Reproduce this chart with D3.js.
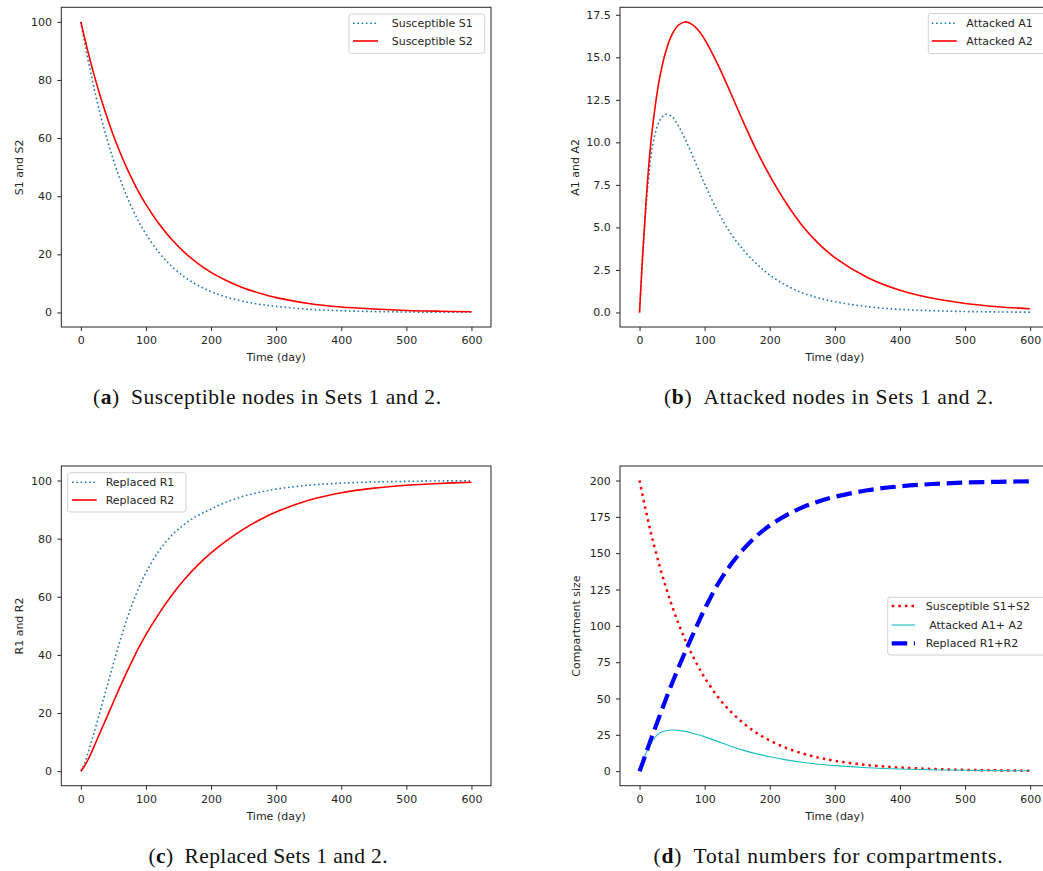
<!DOCTYPE html>
<html>
<head>
<meta charset="utf-8">
<script src="https://cdn.jsdelivr.net/npm/d3@7"></script>
<style>
  html, body { margin: 0; padding: 0; background: #fff; }
  svg { display: block; }
  .tick text { font-family: "DejaVu Sans", sans-serif; font-size: 11px; fill: #262626; }
  .tick line { stroke: #262626; }
</style>
</head>
<body>
<svg id="fig" width="1043" height="871"></svg>
<script>
// Sample times (days)
const days = [0,5,10,15,20,30,40,50,60,70,80,90,100,120,140,160,180,200,225,250,275,300,350,400,450,500,550,600];

// (a) susceptible nodes
const susceptibleS1 = [100,93.8,88,82.6,77.5,68,59.8,52.5,46,40.3,35.3,30.8,27,20.6,15.8,12.1,9.3,7.2,5.2,3.8,2.8,2.1,1.1,0.6,0.32,0.17,0.09,0.05];
const susceptibleS2 = [100,95.2,90.6,86.2,82,74.3,67.3,60.9,55.2,50,45.3,41,37.2,30.5,25,20.5,16.8,13.8,10.8,8.4,6.6,5.1,3.1,1.9,1.2,0.7,0.43,0.26];

// (b) attacked nodes
const attackedA1 = [0,3.4,6.2,8.3,9.8,11.2,11.65,11.5,10.95,10.2,9.35,8.45,7.55,5.95,4.65,3.65,2.85,2.2,1.6,1.15,0.85,0.63,0.34,0.18,0.1,0.055,0.03,0.016];
const attackedA2 = [0,3.5,6.5,9,10.9,13.6,15.3,16.35,16.9,17.08,16.95,16.6,16.05,14.6,12.9,11.15,9.5,8.05,6.45,5.1,4.05,3.22,2.05,1.3,0.83,0.53,0.34,0.22];

// (c) replaced nodes
const replacedR1 = [0,2.3,5.6,9.2,13,20.9,29,37,44.7,51.8,58.1,63.6,68.3,75.8,81.2,85.1,88,90.2,92.7,94.6,96,97.05,98.4,99.1,99.5,99.72,99.85,99.92];
const replacedR2 = [0,1.5,3.5,5.8,8.3,13.5,18.6,23.8,28.9,33.8,38.5,42.9,47,54.2,60.6,66.2,71,75.1,79.5,83.3,86.5,89.2,93.2,95.8,97.4,98.4,99,99.4];

// (d) compartment totals
const totalS = [200,189,178.6,168.8,159.5,142.5,127.3,113.6,101.4,90.5,80.8,72.1,64.4,51.3,41,32.8,26.3,21.1,16,12.2,9.3,7.1,4.2,2.5,1.5,0.9,0.55,0.32];
const totalA = [0,6.8,12.5,17.2,21,26,27.8,28.3,28.1,27.4,26.3,25,23.6,20.5,17.2,14.3,11.9,9.9,7.8,6.1,4.8,3.8,2.4,1.5,0.95,0.6,0.38,0.24];
const totalR = [0,6,12.5,18.8,25,37,49,60.5,71.5,82,92,102,111.5,128.5,142,153,162,169,176,181.5,185.6,188.8,193.3,196,197.6,198.6,199.1,199.5];

// Axis ticks
const timeTicks = [0,100,200,300,400,500,600];
const ticksHundred = [0,20,40,60,80,100];
const ticksAttacked = [0,2.5,5,7.5,10,12.5,15,17.5];
const ticksTotal = [0,25,50,75,100,125,150,175,200];

const svg = d3.select("#fig");

function panel(cfg) {
  const x = d3.scaleLinear().domain([-30, 630]).range([cfg.left, cfg.left + 429.7]);
  const y = d3.scaleLinear().domain(cfg.yDomain).range([cfg.top + 319.7, cfg.top]);
  const g = svg.append("g");

  // curves
  const line = vals => d3.line()
      .x((d, i) => x(days[i]))
      .y(d => y(d))
      .curve(d3.curveCatmullRom.alpha(0.5))(vals);
  cfg.series.forEach(s => {
    g.append("path")
      .attr("d", line(s.values))
      .attr("fill", "none")
      .attr("stroke", s.color)
      .attr("stroke-width", s.width)
      .attr("stroke-dasharray", s.dash || null);
  });

  // axes frame
  g.append("rect")
    .attr("x", cfg.left).attr("y", cfg.top)
    .attr("width", 429.7).attr("height", 319.7)
    .attr("fill", "none").attr("stroke", "#262626").attr("stroke-width", 1);

  // tick marks and labels
  g.append("g")
    .attr("transform", `translate(0,${cfg.top + 319.7})`)
    .call(d3.axisBottom(x).tickValues(timeTicks).tickSize(4).tickPadding(5.5).tickFormat(d3.format("d")))
    .call(a => a.select(".domain").remove());
  g.append("g")
    .attr("transform", `translate(${cfg.left},0)`)
    .call(d3.axisLeft(y).tickValues(cfg.yTicks).tickSize(4).tickPadding(5.3).tickFormat(cfg.yFormat))
    .call(a => a.select(".domain").remove());

  // axis titles
  g.append("text")
    .attr("x", cfg.left + 214.8).attr("y", cfg.top + 354)
    .attr("text-anchor", "middle")
    .style("font-family", "DejaVu Sans, sans-serif").style("font-size", "11px").style("fill", "#262626")
    .text("Time (day)");
  g.append("text")
    .attr("transform", `translate(${cfg.ylabelX},${cfg.top + 160}) rotate(-90)`)
    .attr("text-anchor", "middle")
    .style("font-family", "DejaVu Sans, sans-serif").style("font-size", "11px").style("fill", "#262626")
    .text(cfg.ylabel);

  // legend
  const L = cfg.legend;
  const lg = g.append("g").attr("transform", `translate(${L.x},${L.y})`);
  lg.append("rect")
    .attr("width", L.w).attr("height", L.h).attr("rx", 2.5)
    .attr("fill", "#fff").attr("fill-opacity", 0.8)
    .attr("stroke", "#cccccc").attr("stroke-width", 0.9);
  cfg.series.forEach((s, i) => {
    const ry = L.rows[i];
    lg.append("line")
      .attr("x1", L.h0).attr("x2", L.h1).attr("y1", ry).attr("y2", ry)
      .attr("stroke", s.color).attr("stroke-width", s.width)
      .attr("stroke-dasharray", s.dash || null);
    lg.append("text")
      .attr("x", L.tx).attr("y", ry).attr("dy", "0.36em")
      .style("font-family", "DejaVu Sans, sans-serif").style("font-size", "11px").style("fill", "#262626")
      .style("white-space", "pre")
      .text(s.label);
  });

  // caption under the panel
  const cap = svg.append("text")
    .attr("x", cfg.capX).attr("y", cfg.capY)
    .attr("text-anchor", "middle")
    .attr("textLength", cfg.capWidth).attr("lengthAdjust", "spacing")
    .style("font-family", "Liberation Serif, serif").style("font-size", "21.5px").style("fill", "#111");
  cap.append("tspan").text("(");
  cap.append("tspan").style("font-weight", "bold").text(cfg.capLetter);
  cap.append("tspan").text(")\u2002" + cfg.capText);
}

const blueDot = "#1f77b4";
const fmtInt = d3.format("d");
const fmtOne = d3.format(".1f");

panel({
  left: 61.3, top: 7.3, yDomain: [-5, 105], yTicks: ticksHundred, yFormat: fmtInt,
  ylabel: "S1 and S2", ylabelX: 23,
  series: [
    { values: susceptibleS1, label: "Susceptible S1", color: blueDot, width: 1.6, dash: "1.6,2.7" },
    { values: susceptibleS2, label: "Susceptible S2", color: "#ff0000", width: 1.6 }
  ],
  legend: { x: 349, y: 14, w: 135.7, h: 39.3, rows: [9.3, 27], h0: 4, h1: 29, tx: 42.7 },
  capX: 267, capY: 404, capWidth: 348, capLetter: "a", capText: "Susceptible nodes in Sets 1 and 2."
});

panel({
  left: 620, top: 7.3, yDomain: [-0.855, 17.94], yTicks: ticksAttacked, yFormat: fmtOne,
  ylabel: "A1 and A2", ylabelX: 579,
  series: [
    { values: attackedA1, label: "Attacked A1", color: blueDot, width: 1.6, dash: "1.6,2.7" },
    { values: attackedA2, label: "Attacked A2", color: "#ff0000", width: 1.6 }
  ],
  legend: { x: 928.3, y: 13.5, w: 118, h: 40, rows: [9.8, 27.5], h0: 3.5, h1: 28.5, tx: 38 },
  capX: 828.5, capY: 404, capWidth: 329, capLetter: "b", capText: "Attacked nodes in Sets 1 and 2."
});

panel({
  left: 61.3, top: 466, yDomain: [-5, 105], yTicks: ticksHundred, yFormat: fmtInt,
  ylabel: "R1 and R2", ylabelX: 23,
  series: [
    { values: replacedR1, label: "Replaced R1", color: blueDot, width: 1.6, dash: "1.6,2.7" },
    { values: replacedR2, label: "Replaced R2", color: "#ff0000", width: 1.6 }
  ],
  legend: { x: 67.7, y: 472.7, w: 118.3, h: 39.3, rows: [9.6, 27.3], h0: 4.3, h1: 29, tx: 38 },
  capX: 268, capY: 863, capWidth: 239, capLetter: "c", capText: "Replaced Sets 1 and 2."
});

panel({
  left: 620, top: 466, yDomain: [-10, 210], yTicks: ticksTotal, yFormat: fmtInt,
  ylabel: "Compartment size", ylabelX: 580,
  series: [
    { values: totalS, label: "Susceptible S1+S2", color: "#ff0000", width: 2.5, dash: "2.5,4.1" },
    { values: totalA, label: " Attacked A1+ A2", color: "#17bfbf", width: 1.1 },
    { values: totalR, label: "Replaced R1+R2", color: "#0000ff", width: 4.2, dash: "15.5,6.7" }
  ],
  legend: { x: 887.7, y: 597.3, w: 160, h: 57.7, rows: [8.7, 27.7, 46], h0: 4, h1: 27.3, tx: 38 },
  capX: 828, capY: 863, capWidth: 349, capLetter: "d", capText: "Total numbers for compartments."
});
</script>
</body>
</html>
